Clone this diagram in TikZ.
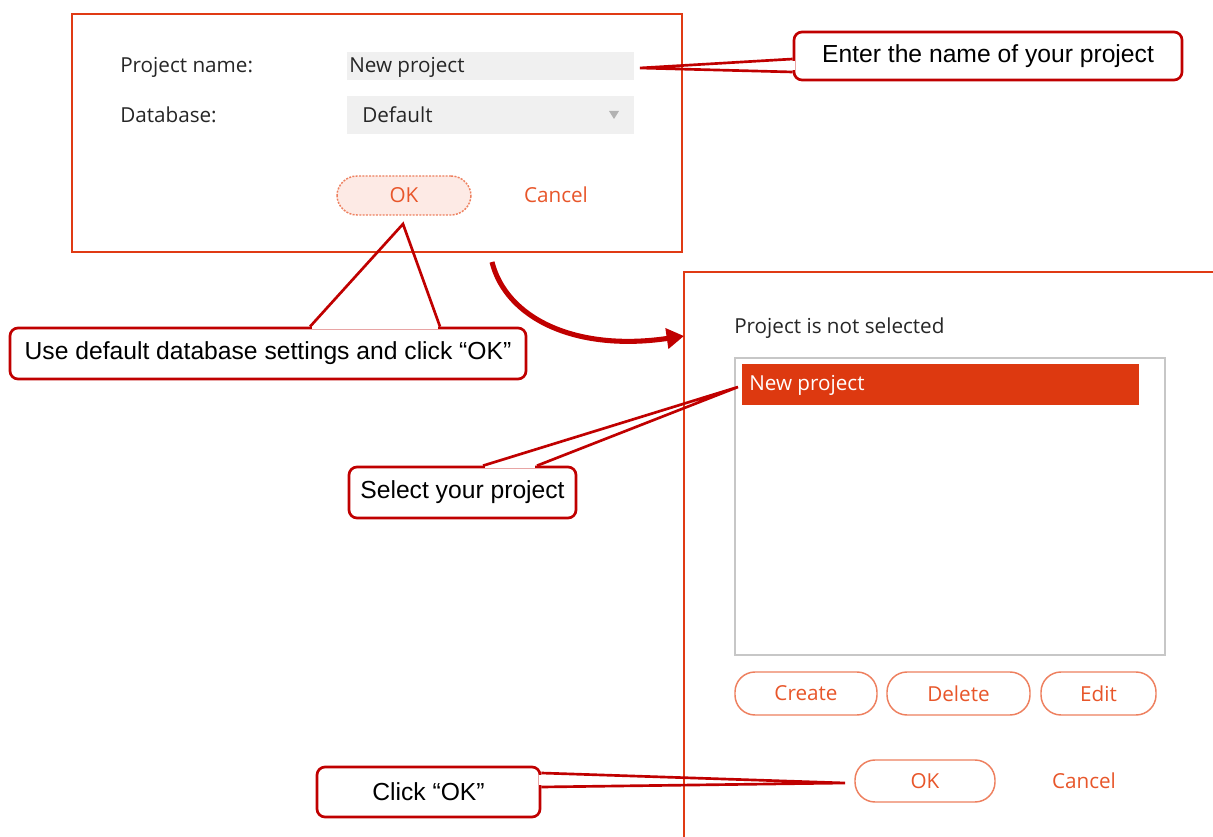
\documentclass[tikz,border=0pt]{standalone}
\usepackage{fontspec}
\setmainfont{Liberation Sans}
\newfontfamily\uifont{Open Sans}
\usetikzlibrary{calc,arrows.meta}
\definecolor{dlgred}{HTML}{E03A14}
\definecolor{uiorange}{HTML}{E8562A}
\definecolor{callred}{HTML}{C00000}
\definecolor{uigray}{HTML}{F0F0F0}
\definecolor{uisel}{HTML}{DD3910}
\definecolor{uipink}{HTML}{FDEAE5}
\tikzset{
  dlg/.style={draw=dlgred, line width=1.9pt},
  uilbl/.style={anchor=west, inner sep=0pt, text=black!85, font=\uifont\fontsize{15.5}{18}\selectfont},
  uilink/.style={inner sep=0pt, text=uiorange, font=\uifont\fontsize{15.5}{18}\selectfont},
  uibtn/.style={draw=uiorange!75, line width=1.1pt, rounded corners=15pt, text=uiorange, inner sep=0pt, font=\uifont\fontsize{15.5}{18}\selectfont},
  uifield/.style={fill=uigray, anchor=north west, inner sep=0pt},
  callbox/.style={draw=callred, line width=2pt, rounded corners=6pt, fill=white, inner sep=0pt, font=\fontsize{18.5}{22}\selectfont},
  callleg/.style={draw=callred, line width=2pt},
  callgap/.style={draw=white, line width=3pt}
}
\begin{document}
\begin{tikzpicture}[x=0.75pt,y=-0.75pt]
   \useasboundingbox[fill=white] (0,0) rectangle (1213,837);

   \draw[dlg] (72,14) rectangle (682,252);
   \node[uilbl] (pnamelbl) at (120,67) {Project name:};
   \node[uifield, minimum width=215.25pt, minimum height=21pt] (pnamefld) at (347,52) {};
   \node[uilbl] (pnametxt) at (349,67) {New project};
   \node[uilbl] (dblbl) at (120,115) {Database:};
   \node[uifield, minimum width=215.25pt, minimum height=28.5pt] (dbfld) at (347,96) {};
   \node[uilbl] (dbtxt) at (362,115) {Default};
   \fill[black!30] (609,111) -- (619,111) -- (614,119) -- cycle;
   \node[uibtn, fill=uipink, dash pattern=on 1.5pt off 1pt, minimum width=100.5pt, minimum height=29.25pt] (okfirst) at (404,195.5) {OK};
   \node[uilink] (cancelfirst) at (556,195) {Cancel};

   \draw[dlg] (684,850) -- (684,272) -- (1225,272);
   \node[uilbl] (notsel) at (734,328) {Project is not selected};
   \draw[black!22, line width=1.2pt] (735,358) rectangle (1165,655);
   \fill[uisel] (742,364) rectangle (1139,405);
   \node[uilbl, text=white] (newproj) at (749,385) {New project};
   \node[uibtn, minimum width=106.5pt, minimum height=32.25pt] (create) at (806,693.5) {Create};
   \node[uibtn, minimum width=107.25pt, minimum height=32.25pt] (delete) at (958.5,693.5) {Delete};
   \node[uibtn, minimum width=86.25pt, minimum height=32.25pt] (edit) at (1098.5,693.5) {Edit};
   \node[uibtn, minimum width=105pt, minimum height=31.5pt] (oksecond) at (925,781) {OK};
   \node[uilink] (cancelsecond) at (1084,781) {Cancel};

   \coordinate (arrs) at (492,262);
   \coordinate (arre) at (684,336);
   \draw[callred, line width=3.8pt, -{Triangle[length=13pt,width=15pt]}] (arrs) .. controls (506,318) and (575,352) .. (arre);

   \node[callbox, minimum width=291pt, minimum height=36pt] (callname) at (988,56) {Enter the name of your project};
   \node[callbox, minimum width=387pt, minimum height=38.25pt] (calldb) at (268,353.5) {Use default database settings and click “OK”};
   \node[callbox, minimum width=170.25pt, minimum height=38.25pt] (callsel) at (462.5,492.5) {Select your project};
   \node[callbox, minimum width=167.25pt, minimum height=37.5pt] (callok) at (428.5,792) {Click “OK”};

   \coordinate (tipname) at (640,68);
   \coordinate (tipdb) at (403,224);
   \coordinate (tipsel) at (738,387);
   \coordinate (tipok) at (845,783);

   \draw[callgap] ($(callname.west)+(0,5)$) -- ($(callname.west)+(0,14)$);
   \draw[callleg] ($(callname.west)+(0,3)$) -- (tipname) -- ($(callname.west)+(0,16)$);
   \draw[callgap] ($(calldb.north)+(44,0)$) -- ($(calldb.north)+(170,0)$);
   \draw[callleg] ($(calldb.north)+(42,0)$) -- (tipdb) -- ($(calldb.north)+(172,0)$);
   \draw[callgap] ($(callsel.north)+(22.5,0)$) -- ($(callsel.north)+(72.5,0)$);
   \draw[callleg] ($(callsel.north)+(20.5,0)$) -- (tipsel) -- ($(callsel.north)+(74.5,0)$);
   \draw[callgap] ($(callok.east)+(0,-17)$) -- ($(callok.east)+(0,-7)$);
   \draw[callleg] ($(callok.east)+(0,-19)$) -- (tipok) -- ($(callok.east)+(0,-5)$);
\end{tikzpicture}
\end{document}
